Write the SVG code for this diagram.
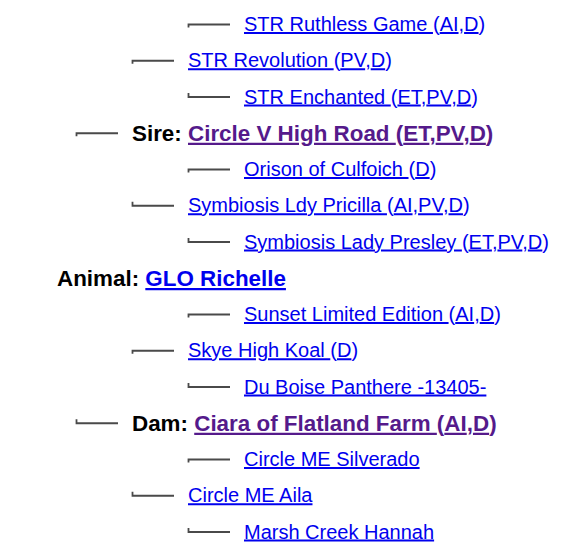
<svg xmlns="http://www.w3.org/2000/svg" width="585" height="558" viewBox="0 0 585 558">
<style>
text{font-family:"Liberation Sans",Arial,sans-serif;font-size:20px;fill:#0000EE}
.u{text-decoration:underline}
.h{font-weight:bold;font-size:22.4px;fill:#000}
.lk{fill:#0000EE}
.vis{fill:#551A8B}
.c path{fill:none;stroke:#4a4a4a;stroke-width:1.8}
</style>
<rect width="585" height="558" fill="#fff"/>
<g class="c" id="connectors">
<path d="M188.5,27.5V24.5H230"/>
<path d="M132.5,63.75V60.75H174"/>
<path d="M188.5,93V97H230"/>
<path d="M76.5,136.25V133.25H118"/>
<path d="M188.5,172.5V169.5H230"/>
<path d="M132.5,201.75V205.75H174"/>
<path d="M188.5,238V242H230"/>
<path d="M188.5,317.5V314.5H230"/>
<path d="M132.5,353.75V350.75H174"/>
<path d="M188.5,383V387H230"/>
<path d="M76.5,419.25V423.25H118"/>
<path d="M188.5,462.5V459.5H230"/>
<path d="M132.5,491.75V495.75H174"/>
<path d="M188.5,528V532H230"/>
</g>
<g id="n-str-ruthless"><text x="244" y="31"><tspan class="u">STR Ruthless Game </tspan>(<tspan class="u">AI</tspan>,<tspan class="u">D</tspan>)</text></g>
<g id="n-str-revolution"><text x="188" y="67.25"><tspan class="u">STR Revolution </tspan>(<tspan class="u">PV</tspan>,<tspan class="u">D</tspan>)</text></g>
<g id="n-str-enchanted"><text x="244" y="103.5"><tspan class="u">STR Enchanted </tspan>(<tspan class="u">ET</tspan>,<tspan class="u">PV</tspan>,<tspan class="u">D</tspan>)</text></g>
<g id="n-sire"><text x="132" y="140.75" class="h">Sire: <tspan class="vis u">Circle V High Road </tspan><tspan class="vis">(</tspan><tspan class="vis u">ET</tspan><tspan class="vis">,</tspan><tspan class="vis u">PV</tspan><tspan class="vis">,</tspan><tspan class="vis u">D</tspan><tspan class="vis">)</tspan></text></g>
<g id="n-orison"><text x="244" y="176"><tspan class="u">Orison of Culfoich </tspan>(<tspan class="u">D</tspan>)</text></g>
<g id="n-symbiosis-pricilla"><text x="188" y="212.25"><tspan class="u">Symbiosis Ldy Pricilla </tspan>(<tspan class="u">AI</tspan>,<tspan class="u">PV</tspan>,<tspan class="u">D</tspan>)</text></g>
<g id="n-symbiosis-presley"><text x="244" y="248.5"><tspan class="u">Symbiosis Lady Presley </tspan>(<tspan class="u">ET</tspan>,<tspan class="u">PV</tspan>,<tspan class="u">D</tspan>)</text></g>
<g id="n-animal"><text x="57" y="286" class="h">Animal: <tspan class="lk u">GLO Richelle</tspan></text></g>
<g id="n-sunset"><text x="244" y="321"><tspan class="u">Sunset Limited Edition </tspan>(<tspan class="u">AI</tspan>,<tspan class="u">D</tspan>)</text></g>
<g id="n-skye"><text x="188" y="357.25"><tspan class="u">Skye High Koal </tspan>(<tspan class="u">D</tspan>)</text></g>
<g id="n-duboise"><text x="244" y="393.5"><tspan class="u">Du Boise Panthere -13405-</tspan></text></g>
<g id="n-dam"><text x="132" y="430.75" class="h">Dam: <tspan class="vis u">Ciara of Flatland Farm </tspan><tspan class="vis">(</tspan><tspan class="vis u">AI</tspan><tspan class="vis">,</tspan><tspan class="vis u">D</tspan><tspan class="vis">)</tspan></text></g>
<g id="n-silverado"><text x="244" y="466"><tspan class="u">Circle ME Silverado</tspan></text></g>
<g id="n-aila"><text x="188" y="502.25"><tspan class="u">Circle ME Aila</tspan></text></g>
<g id="n-marsh"><text x="244" y="538.5"><tspan class="u">Marsh Creek Hannah</tspan></text></g>
</svg>
